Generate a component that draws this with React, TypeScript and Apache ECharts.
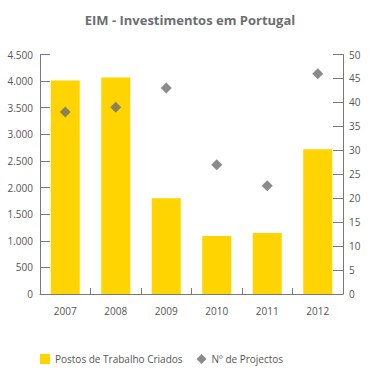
import React, { useEffect, useRef } from "react";
import * as echarts from "echarts";

const years = ["2007", "2008", "2009", "2010", "2011", "2012"];
const postosTrabalho = [4010, 4070, 1800, 1090, 1145, 2720];
const numProjectos = [38, 39, 43, 27, 22.6, 46];
const leftTicks = { min: 0, max: 4500, interval: 500 };
const rightTicks = { min: 0, max: 50, interval: 5 };

const GRAY = "#6d6e71";
const AXIS = "#7a7a7a";
const YELLOW = "#ffd400";
const FONT = "Open Sans";

function fmtThousands(v: number): string {
  return String(v).replace(/\B(?=(\d{3})+(?!\d))/g, ".");
}

export default function App() {
  const ref = useRef<HTMLDivElement>(null);
  useEffect(() => {
    if (!ref.current) return;
    const chart = echarts.init(ref.current, undefined, { renderer: "svg" });
    chart.setOption({
      animation: false,
      backgroundColor: "#ffffff",
      title: {
        text: "EIM - Investimentos em Portugal",
        left: "center",
        top: 8,
        textStyle: { color: GRAY, fontSize: 13, fontWeight: "bold", fontFamily: FONT },
      },
      legend: {
        left: 35,
        top: 349,
        itemWidth: 10,
        itemHeight: 10,
        itemGap: 14,
        textStyle: { color: "#555", fontSize: 10, fontFamily: FONT },
        data: [
          { name: "Postos de Trabalho Criados", icon: "rect" },
          { name: "Nº de Projectos", icon: "diamond" },
        ],
      },
      grid: { left: 40, right: 37, top: 54.5, bottom: 75 },
      xAxis: {
        type: "category",
        data: years,
        axisLine: { lineStyle: { color: AXIS, width: 1 } },
        axisTick: { show: true, inside: true, length: 6, alignWithLabel: false, lineStyle: { color: AXIS } },
        axisLabel: { color: "#555", fontSize: 10, fontFamily: FONT, margin: 12 },
      },
      yAxis: [
        {
          type: "value",
          ...leftTicks,
          position: "left",
          axisLine: { show: true, lineStyle: { color: AXIS } },
          axisTick: { show: true, inside: true, length: 10, lineStyle: { color: AXIS } },
          splitLine: { show: false },
          axisLabel: {
            color: "#555",
            fontSize: 10,
            fontFamily: FONT,
            margin: 7,
            formatter: (v: number) => fmtThousands(v),
          },
        },
        {
          type: "value",
          ...rightTicks,
          position: "right",
          axisLine: { show: true, lineStyle: { color: AXIS } },
          axisTick: { show: true, inside: true, length: 10, lineStyle: { color: AXIS } },
          splitLine: { show: false },
          axisLabel: { color: "#555", fontSize: 10, fontFamily: FONT, margin: 6 },
        },
      ],
      series: [
        {
          name: "Postos de Trabalho Criados",
          type: "bar",
          data: postosTrabalho,
          yAxisIndex: 0,
          barWidth: 29,
          itemStyle: { color: YELLOW },
        },
        {
          name: "Nº de Projectos",
          type: "scatter",
          data: numProjectos,
          yAxisIndex: 1,
          symbol: "diamond",
          symbolSize: 11,
          itemStyle: { color: GRAY },
        },
      ],
    });
    return () => chart.dispose();
  }, []);
  return (
    <div
      ref={ref}
      style={{ position: "fixed", left: 0, top: 0, width: 380, height: 369 }}
    />
  );
}
